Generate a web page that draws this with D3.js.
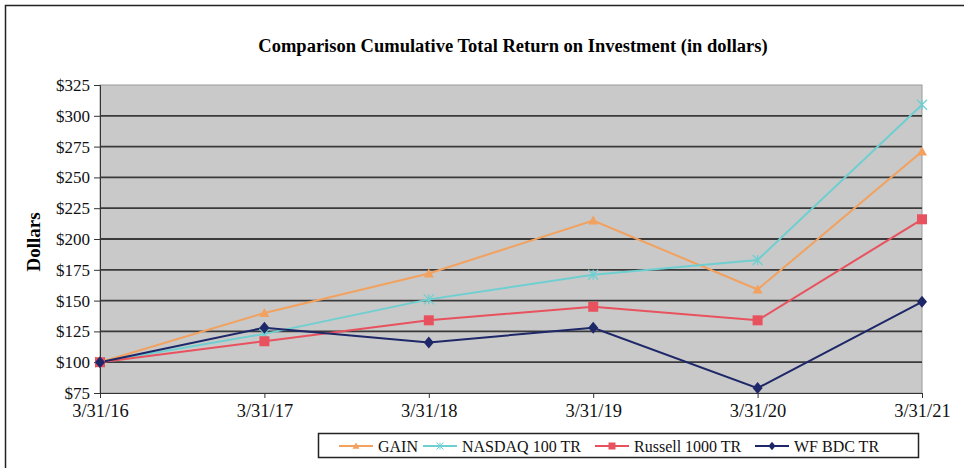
<!DOCTYPE html>
<html>
<head>
<meta charset="utf-8">
<script src="https://cdn.jsdelivr.net/npm/d3@7"></script>
<style>
  body { margin: 0; background: #fff; }
  svg { display: block; font-family: "Liberation Serif", "Times New Roman", serif; }
</style>
</head>
<body>
<div id="chart"></div>
<script>
// chart data
const dates = ["3/31/16", "3/31/17", "3/31/18", "3/31/19", "3/31/20", "3/31/21"];
const gain = [100, 140, 172, 215, 159, 271];
const nasdaq = [100, 123, 151, 171, 183, 309];
const russell = [100, 117, 134, 145, 134, 216];
const wfbdc = [100, 128, 116, 128, 79, 149];
const yTicks = [75, 100, 125, 150, 175, 200, 225, 250, 275, 300, 325];

const seriesList = [
  {name: "GAIN", values: gain, color: "#f2a15e", marker: "triangle"},
  {name: "NASDAQ 100 TR", values: nasdaq, color: "#6fcfd0", marker: "cross"},
  {name: "Russell 1000 TR", values: russell, color: "#e8525e", marker: "square"},
  {name: "WF BDC TR", values: wfbdc, color: "#1e2768", marker: "diamond"}
];

const W = 964, H = 468;
const margin = {top: 85, right: 42, bottom: 75, left: 100};
const width = W - margin.left - margin.right;
const height = H - margin.top - margin.bottom;

const svg = d3.select("#chart").append("svg")
    .attr("width", W)
    .attr("height", H);

// outer frame
svg.append("rect")
    .attr("x", 5.5).attr("y", 5.5)
    .attr("width", W + 10).attr("height", H + 10)
    .attr("fill", "none")
    .attr("stroke", "#222")
    .attr("stroke-width", 1.5);

svg.append("text")
    .attr("x", 513).attr("y", 52)
    .attr("text-anchor", "middle")
    .attr("font-weight", "bold")
    .attr("font-size", 18.5)
    .text("Comparison Cumulative Total Return on Investment (in dollars)");

const g = svg.append("g")
    .attr("transform", `translate(${margin.left},${margin.top})`);

const x = d3.scalePoint()
    .domain(dates)
    .range([0, width]);

const y = d3.scaleLinear()
    .domain([75, 325])
    .range([height, 0]);

// plot background
g.append("rect")
    .attr("width", width).attr("height", height)
    .attr("fill", "#c9c9c9")
    .attr("stroke", "#9a9a9a");

// gridlines
g.selectAll(".grid")
    .data(yTicks.filter(d => d > 75 && d < 325))
    .join("line")
    .attr("class", "grid")
    .attr("x1", 0).attr("x2", width)
    .attr("y1", d => y(d)).attr("y2", d => y(d))
    .attr("stroke", "#3a3a3a")
    .attr("stroke-width", 1.8);

// y axis
const yAxis = g.append("g")
    .call(d3.axisLeft(y).tickValues(yTicks).tickSize(6).tickFormat(d => "$" + d));
yAxis.select(".domain").attr("stroke", "#333");
yAxis.selectAll(".tick line").attr("stroke", "#333");
yAxis.selectAll(".tick text")
    .attr("font-family", "Liberation Serif")
    .attr("font-size", 17)
    .attr("fill", "#111")
    .attr("x", -10);

// x axis
const xAxis = g.append("g")
    .attr("transform", `translate(0,${height})`)
    .call(d3.axisBottom(x).tickSize(5).tickSizeOuter(0));
xAxis.select(".domain").attr("stroke", "#333");
xAxis.selectAll(".tick line").attr("stroke", "#333");
xAxis.selectAll(".tick text")
    .attr("font-family", "Liberation Serif")
    .attr("font-size", 18.5)
    .attr("fill", "#111")
    .attr("y", 11);

svg.append("text")
    .attr("transform", "translate(40,242) rotate(-90)")
    .attr("text-anchor", "middle")
    .attr("font-weight", "bold")
    .attr("font-size", 19)
    .text("Dollars");

const markerPath = (type, size) => {
  const s = size;
  if (type === "triangle") return `M0,${-s}L${s},${s * 0.8}L${-s},${s * 0.8}Z`;
  if (type === "square") return `M${-s},${-s}H${s}V${s}H${-s}Z`;
  if (type === "diamond") return `M0,${-s * 1.2}L${s},0L0,${s * 1.2}L${-s},0Z`;
  return `M${-s},${-s}L${s},${s}M${-s},${s}L${s},${-s}M0,${-s}V${s}`;
};

const line = d3.line()
    .x((d, i) => x(dates[i]))
    .y(d => y(d));

seriesList.forEach(s => {
  g.append("path")
      .datum(s.values)
      .attr("fill", "none")
      .attr("stroke", s.color)
      .attr("stroke-width", 2)
      .attr("d", line);
});

seriesList.forEach(s => {
  g.selectAll(null)
      .data(s.values)
      .join("path")
      .attr("transform", (d, i) => `translate(${x(dates[i])},${y(d)})`)
      .attr("d", markerPath(s.marker, 5))
      .attr("fill", s.marker === "cross" ? "none" : s.color)
      .attr("stroke", s.color)
      .attr("stroke-width", s.marker === "cross" ? 1.3 : 0);
});

// legend
const legend = svg.append("g");
legend.append("rect")
    .attr("x", 318.5).attr("y", 433.5)
    .attr("width", 600).attr("height", 24)
    .attr("fill", "#fff")
    .attr("stroke", "#222")
    .attr("stroke-width", 1.5);

const legendX = [339, 423, 595, 755];
seriesList.forEach((s, i) => {
  const lg = legend.append("g").attr("transform", `translate(${legendX[i]},446)`);
  lg.append("line")
      .attr("x1", 0).attr("x2", 34)
      .attr("stroke", s.color).attr("stroke-width", 2);
  lg.append("path")
      .attr("transform", "translate(17,0)")
      .attr("d", markerPath(s.marker, 3.5))
      .attr("fill", s.marker === "cross" ? "none" : s.color)
      .attr("stroke", s.color)
      .attr("stroke-width", s.marker === "cross" ? 1 : 0);
  lg.append("text")
      .attr("x", 39).attr("y", 5.5)
      .attr("font-size", 16)
      .attr("fill", "#111")
      .text(s.name);
});
</script>
</body>
</html>
